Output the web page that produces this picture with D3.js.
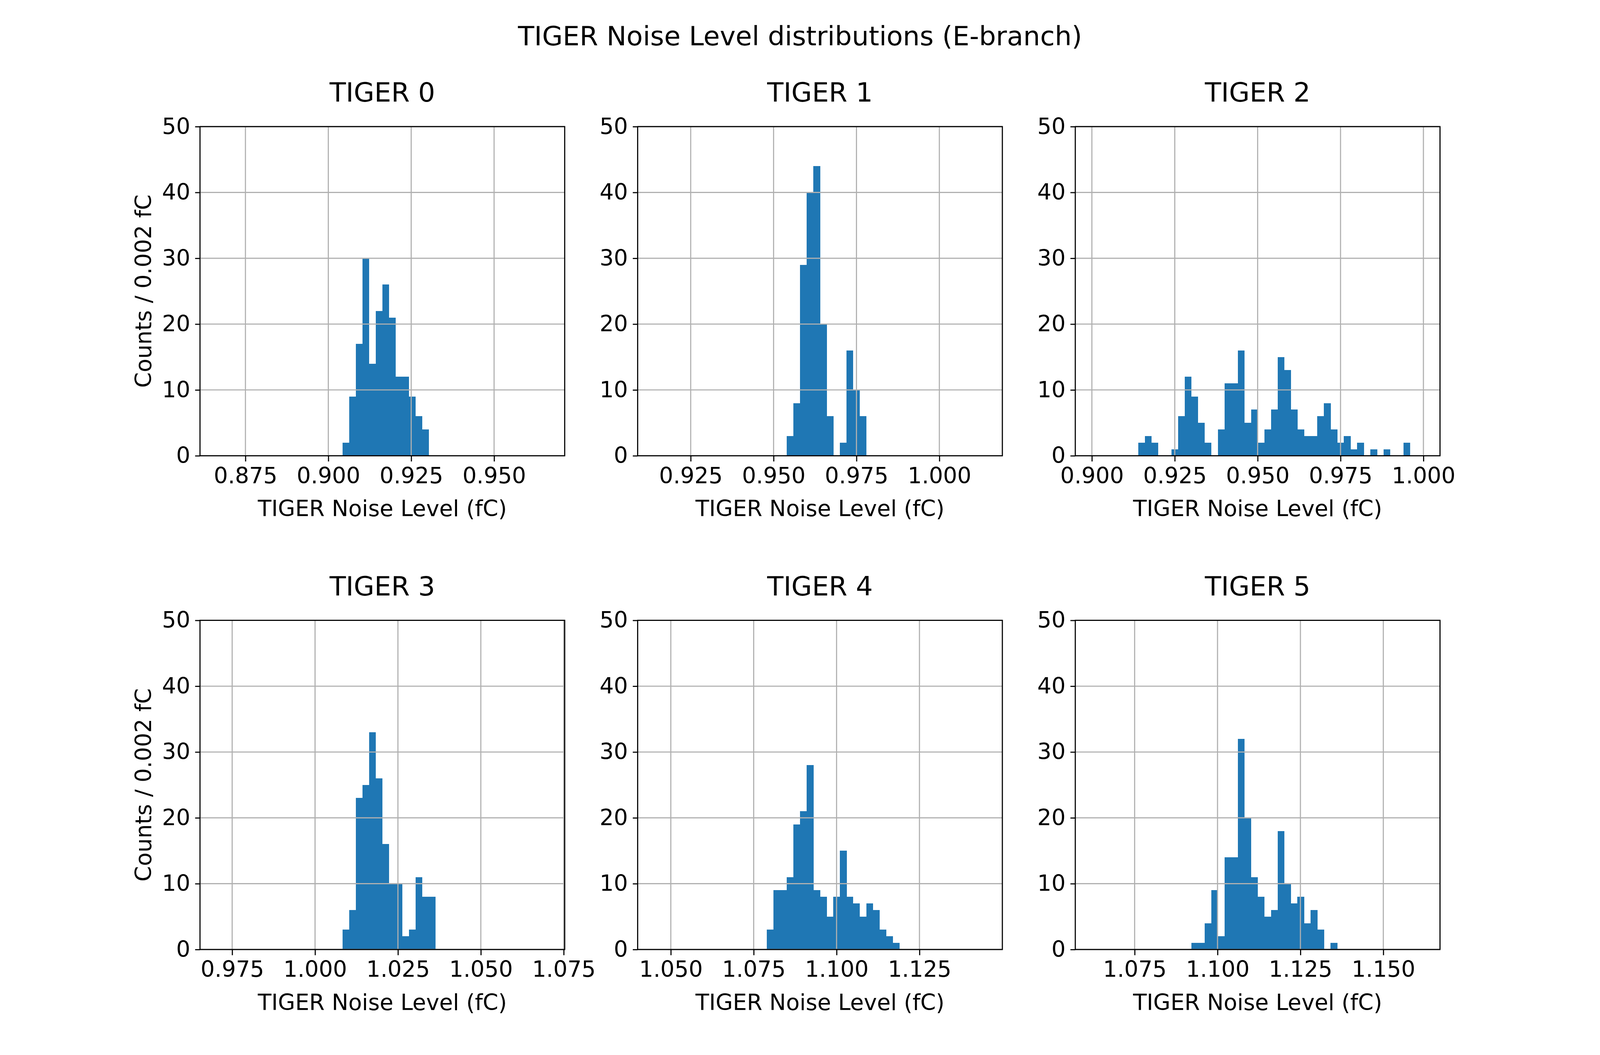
<!DOCTYPE html>
<html>
<head>
<meta charset="utf-8">
<script src="https://cdn.jsdelivr.net/npm/d3@7/dist/d3.min.js"></script>
<style>
  html, body { margin: 0; padding: 0; width: 100%; height: 100%; overflow: hidden; background: #ffffff; }
  svg { display: block; position: absolute; left: 0; top: 0; }
</style>
</head>
<body>
<svg id="chart"></svg>
<script>
// ---------------- DATA ----------------
const suptitle = "TIGER Noise Level distributions (E-branch)";
const panelTitles = ["TIGER 0", "TIGER 1", "TIGER 2", "TIGER 3", "TIGER 4", "TIGER 5"];
const xLabel = "TIGER Noise Level (fC)";
const yLabel = "Counts / 0.002 fC";
const binWidth = 0.002;

// lower edge of the histogram range (range = [lo, lo + 0.1], 50 bins)
const rangeLow = [0.8663, 0.9140, 0.9000, 0.9703, 1.0450, 1.0621];

// counts per 0.002 fC bin (50 bins each)
const counts0 = [0,0,0,0,0,0,0,0,0,0, 0,0,0,0,0,0,0,0,0,2, 9,17,30,14,22,26,21,12,12,9, 6,4,0,0,0,0,0,0,0,0, 0,0,0,0,0,0,0,0,0,0];
const counts1 = [0,0,0,0,0,0,0,0,0,0, 0,0,0,0,0,0,0,0,0,0, 3,8,29,40,44,20,6,0,2,16, 10,6,0,0,0,0,0,0,0,0, 0,0,0,0,0,0,0,0,0,0];
const counts2 = [0,0,0,0,0,0,0,2,3,2, 0,0,1,6,12,9,5,2,0,4, 11,11,16,5,7,2,4,7,15,13, 7,4,3,3,6,8,4,2,3,1, 2,0,1,0,1,0,0,2,0,0];
const counts3 = [0,0,0,0,0,0,0,0,0,0, 0,0,0,0,0,0,0,0,0,3, 6,23,25,33,26,16,10,10,2,3, 11,8,8,0,0,0,0,0,0,0, 0,0,0,0,0,0,0,0,0,0];
const counts4 = [0,0,0,0,0,0,0,0,0,0, 0,0,0,0,0,0,0,3,9,9, 11,19,21,28,9,8,5,8,15,8, 7,5,7,6,3,2,1,0,0,0, 0,0,0,0,0,0,0,0,0,0];
const counts5 = [0,0,0,0,0,0,0,0,0,0, 0,0,0,0,0,1,1,4,9,2, 14,14,32,20,11,8,5,6,18,10, 7,8,4,6,3,0,1,0,0,0, 0,0,0,0,0,0,0,0,0,0];

// tick values
const xTicks0 = [0.875, 0.900, 0.925, 0.950];
const xTicks1 = [0.925, 0.950, 0.975, 1.000];
const xTicks2 = [0.900, 0.925, 0.950, 0.975, 1.000];
const xTicks3 = [0.975, 1.000, 1.025, 1.050, 1.075];
const xTicks4 = [1.050, 1.075, 1.100, 1.125];
const xTicks5 = [1.075, 1.100, 1.125, 1.150];
const yTicks = [0, 10, 20, 30, 40, 50];
const yMax = 50;

// ---------------- LAYOUT (figure of 4800 x 2700, mapped onto the actual viewport) ----------------
const FW = 4800, FH = 2700;
const VW = window.innerWidth || FW, VH = window.innerHeight || FH;
const sx = VW / FW, sy = VH / FH;
const X = v => v * sx, Y = v => v * sy;

const figLeft = 0.125 * FW, figRight = 0.9 * FW;
const figTop = (1 - 0.88) * FH, figBottom = (1 - 0.10) * FH;
const wspace = 0.2, hspace = 0.5;
const aw = (figRight - figLeft) / (3 + 2 * wspace);
const ah = (figBottom - figTop) / (2 + hspace);
const lw = 3.33 * Math.min(sx, sy);   // 0.8pt at 300 dpi
const tickLen = 14.6;                   // 3.5pt
const tickPad = 14.6;
const fontFamily = "'DejaVu Sans', 'Liberation Sans', sans-serif";
const fs = Math.min(sx, sy);
const tickFont = 66.7 * fs;             // 16pt
const titleFont = 80 * fs;              // 19.2pt
const barColor = "#1f77b4";
const gridColor = "#b0b0b0";

const allCounts = [counts0, counts1, counts2, counts3, counts4, counts5];
const allTicks = [xTicks0, xTicks1, xTicks2, xTicks3, xTicks4, xTicks5];

const svg = d3.select("#chart").attr("width", VW).attr("height", VH);
svg.append("rect").attr("x", 0).attr("y", 0).attr("width", VW).attr("height", VH).attr("fill", "#ffffff");

svg.append("text")
  .attr("x", X(FW / 2)).attr("y", Y(116))
  .attr("text-anchor", "middle")
  .attr("font-family", fontFamily)
  .attr("font-size", titleFont)
  .attr("fill", "#000")
  .text(suptitle);

allCounts.forEach((counts, p) => {
  const col = p % 3, row = Math.floor(p / 3);
  const left = figLeft + col * aw * (1 + wspace);
  const top = figTop + row * ah * (1 + hspace);
  const lo = rangeLow[p];

  const x = d3.scaleLinear().domain([lo - 0.005, lo + 0.105]).range([X(left), X(left + aw)]);
  const y = d3.scaleLinear().domain([0, yMax]).range([Y(top + ah), Y(top)]);

  const g = svg.append("g");

  const bins = counts.map((c, i) => ({ x0: lo + i * binWidth, x1: lo + (i + 1) * binWidth, c }))
    .filter(d => d.c > 0);

  g.append("g").selectAll("rect").data(bins).join("rect")
    .attr("x", d => x(d.x0))
    .attr("width", d => x(d.x1) - x(d.x0) + 0.4)
    .attr("y", d => y(d.c))
    .attr("height", d => y(0) - y(d.c))
    .attr("fill", barColor)
    .attr("shape-rendering", "crispEdges");

  // grid lines (drawn above the bars, as in the reference)
  const grid = g.append("g");
  grid.selectAll("line.gx").data(allTicks[p]).join("line")
    .attr("class", "gx")
    .attr("x1", d => x(d)).attr("x2", d => x(d))
    .attr("y1", Y(top)).attr("y2", Y(top + ah))
    .attr("stroke", gridColor).attr("stroke-width", lw);
  grid.selectAll("line.gy").data(yTicks).join("line")
    .attr("class", "gy")
    .attr("x1", X(left)).attr("x2", X(left + aw))
    .attr("y1", d => y(d)).attr("y2", d => y(d))
    .attr("stroke", gridColor).attr("stroke-width", lw);

  // spines
  g.append("rect")
    .attr("x", X(left)).attr("y", Y(top)).attr("width", X(aw)).attr("height", Y(ah))
    .attr("fill", "none").attr("stroke", "#000").attr("stroke-width", lw);

  // axes
  const xAxis = d3.axisBottom(x).tickValues(allTicks[p]).tickFormat(d3.format(".3f"))
    .tickSize(Y(tickLen)).tickPadding(Y(tickPad));
  const gx = g.append("g").attr("transform", `translate(0,${Y(top + ah)})`).call(xAxis);
  const yAxis = d3.axisLeft(y).tickValues(yTicks).tickFormat(d3.format("d"))
    .tickSize(X(tickLen)).tickPadding(X(tickPad));
  const gy = g.append("g").attr("transform", `translate(${X(left)},0)`).call(yAxis);

  [gx, gy].forEach(a => {
    a.attr("font-family", fontFamily).attr("font-size", tickFont);
    a.select(".domain").remove();
    a.selectAll(".tick line").attr("stroke", "#000").attr("stroke-width", lw);
    a.selectAll(".tick text").attr("fill", "#000");
  });
  gx.selectAll(".tick text").attr("dy", "0.72em");

  // titles and labels
  g.append("text")
    .attr("x", X(left + aw / 2)).attr("y", Y(top - 64))
    .attr("text-anchor", "middle")
    .attr("font-family", fontFamily).attr("font-size", titleFont).attr("fill", "#000")
    .text(panelTitles[p]);

  g.append("text")
    .attr("x", X(left + aw / 2)).attr("y", Y(top + ah + 155))
    .attr("text-anchor", "middle")
    .attr("font-family", fontFamily).attr("font-size", tickFont).attr("fill", "#000")
    .text(xLabel);

  if (col === 0) {
    g.append("text")
      .attr("transform", `translate(${X(left - 146)},${Y(top + ah / 2)}) rotate(-90)`)
      .attr("text-anchor", "middle")
      .attr("font-family", fontFamily).attr("font-size", tickFont).attr("fill", "#000")
      .text(yLabel);
  }
});
</script>
</body>
</html>
